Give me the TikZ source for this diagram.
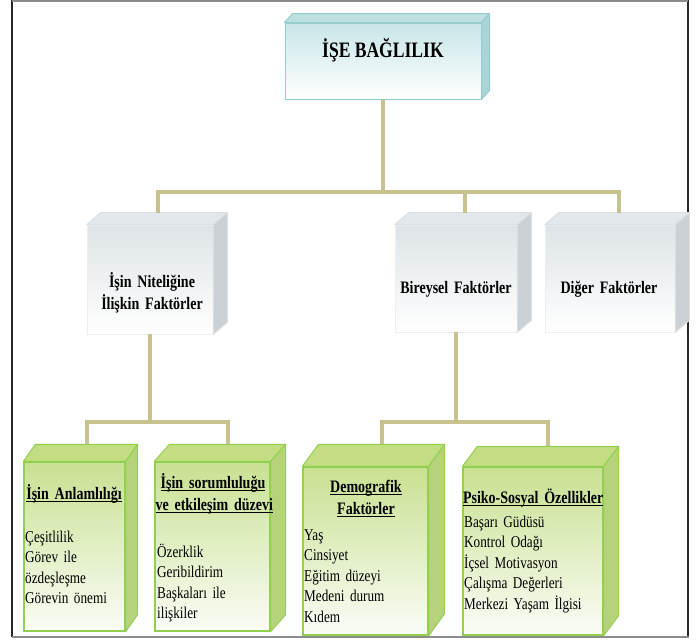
\documentclass[tikz,border=0pt]{standalone}
\usepackage{fontspec}
\setmainfont{Liberation Serif}[FakeStretch=0.8]
\usetikzlibrary{calc}
\definecolor{conncol}{RGB}{200,195,142}
\definecolor{tealtop}{RGB}{200,230,231}
\definecolor{tealface}{RGB}{190,224,225}
\definecolor{tealside}{RGB}{170,212,214}
\definecolor{tealbd}{RGB}{150,205,206}
\definecolor{graytop}{RGB}{222,228,231}
\definecolor{grayface}{RGB}{226,232,235}
\definecolor{grayside}{RGB}{204,209,213}
\definecolor{greentop}{RGB}{200,225,145}
\definecolor{greenface}{RGB}{194,221,130}
\definecolor{greenside}{RGB}{182,210,122}
\definecolor{greenbd}{RGB}{146,208,80}
\newcommand\hul[1]{\setbox0\hbox{#1}\leavevmode\rlap{\rule[-3.2pt]{\wd0}{1.3pt}}\box0}
\newcommand\tightsp{\spaceskip=0.19em plus 0.05em minus 0.03em\xspaceskip=\spaceskip}
\newcommand\cubefaces[6]{%
  \filldraw[fill=#4,draw=#6,line width=1pt,line join=round] (#1.north west) -- ([shift={(#2,-#3)}]#1.north west) -- ([shift={(#2,-#3)}]#1.north east) -- (#1.north east) -- cycle;
  \filldraw[fill=#5,draw=#6,line width=1pt,line join=round] (#1.north east) -- ([shift={(#2,-#3)}]#1.north east) -- ([shift={(#2,-#3)}]#1.south east) -- (#1.south east) -- cycle;
}
\tikzset{
  conn/.style={draw=conncol,line width=4pt},
  tealbox/.style={rectangle,draw=tealbd,line width=1pt,top color=tealtop,bottom color=white,inner sep=0pt},
  graybox/.style={rectangle,draw=graytop!60,line width=0.6pt,top color=graytop,bottom color=white,inner sep=0pt},
  greenbox/.style={rectangle,draw=greenbd,line width=1.3pt,top color=greentop,bottom color=white!92!greentop,inner sep=0pt},
  toptext/.style={font={\fontsize{22}{26}\selectfont\bfseries\tightsp},inner sep=0pt,anchor=base},
  midtext/.style={font={\fontsize{17.5}{22}\selectfont\bfseries\tightsp},inner sep=0pt,anchor=base,align=center,text width=#1},
  headtext/.style={font={\fontsize{17.5}{22}\selectfont\bfseries\tightsp},inner sep=0pt,anchor=base,align=center,text width=#1},
  bodytext/.style={font={\fontsize{16.5}{20.5}\selectfont\tightsp},inner sep=0pt,anchor=base west,align=left,text width=#1},
}
\begin{document}
\begin{tikzpicture}[x=1pt,y=-1pt]
\useasboundingbox (0,0) rectangle (698,640);
% frame
\draw[line width=1.6pt,black!85] (12,0) -- (12,637);
\draw[line width=1.6pt,black!85] (688,0) -- (688,637);
\draw[line width=2pt,black!45] (12,1) -- (688,1);
\draw[line width=2pt,black!45] (12,637) -- (689,637);

% boxes (front faces)
\node[tealbox,minimum width=196pt,minimum height=76pt] (top) at (383,61) {};
\node[graybox,minimum width=126pt,minimum height=109pt] (m1) at (150,279.5) {};
\node[graybox,minimum width=122pt,minimum height=107pt] (m2) at (456,278.5) {};
\node[graybox,minimum width=130pt,minimum height=107pt] (m3) at (610,278.5) {};
\node[greenbox,minimum width=101pt,minimum height=169pt] (a) at (74.5,546.5) {};
\node[greenbox,minimum width=115pt,minimum height=169pt] (b) at (212.5,546.5) {};
\node[greenbox,minimum width=125pt,minimum height=168pt] (c) at (365.5,551) {};
\node[greenbox,minimum width=140pt,minimum height=168pt] (d) at (533,551) {};

% 3D faces
\cubefaces{top}{8}{9}{tealface}{tealside}{tealbd}
\cubefaces{m1}{14}{12}{grayface}{grayside}{grayside!70}
\cubefaces{m2}{14}{12}{grayface}{grayside}{grayside!70}
\cubefaces{m3}{14}{12}{grayface}{grayside}{grayside!70}
\cubefaces{a}{12}{17}{greenface}{greenside}{greenbd}
\cubefaces{b}{15}{17}{greenface}{greenside}{greenbd}
\cubefaces{c}{16}{22}{greenface}{greenside}{greenbd}
\cubefaces{d}{15}{20}{greenface}{greenside}{greenbd}

% connector points
\coordinate (m1top) at ([shift={(8,-12)}]m1.north);
\coordinate (m2top) at ([shift={(9,-12)}]m2.north);
\coordinate (m3top) at ([shift={(9,-12)}]m3.north);
\coordinate (bus1) at (383,192);
\coordinate (atop) at ([shift={(12,-17)}]a.north);
\coordinate (btop) at ([shift={(15,-17)}]b.north);
\coordinate (ctop) at ([shift={(16,-22)}]c.north);
\coordinate (dtop) at ([shift={(15,-20)}]d.north);
\coordinate (bus2) at (150,422);
\coordinate (bus3) at (457,422);

% connectors
\draw[conn] (top.south) -- (bus1);
\draw[conn] (m1top) -- (m1top |- bus1) -- (m3top |- bus1) -- (m3top);
\draw[conn] (m2top) -- (m2top |- bus1);
\draw[conn] (m1.south) -- (bus2);
\draw[conn] (atop) -- (atop |- bus2) -- (btop |- bus2) -- (btop);
\draw[conn] (m2.south) -- (m2.south |- bus3);
\draw[conn] (ctop) -- (ctop |- bus3) -- (dtop |- bus3) -- (dtop);

% texts
\node[toptext] (ttop) at (383,57) {İŞE BAĞLILIK};
\node[midtext=126pt] (tm1) at (152,287) {İşin Niteliğine\\İlişkin Faktörler};
\node[midtext=122pt] (tm2) at (456,293) {Bireysel Faktörler};
\node[midtext=130pt] (tm3) at (609,293) {Diğer Faktörler};

\node[headtext=101pt] (ha) at (74,499) {\hul{İşin Anlamlılığı}};
\node[bodytext=100pt] (ba) at (25,542) {Çeşitlilik\\Görev ile\\özdeşleşme\\Görevin önemi};

\node[headtext=115pt] (hb) at (213,488) {\hul{İşin sorumluluğu}\\\hul{ve etkileşim düzevi}};
\node[bodytext=112pt] (bb) at (157,557) {Özerklik\\Geribildirim\\Başkaları ile\\ilişkiler};

\node[headtext=125pt] (hc) at (366,492) {\hul{Demografik}\\\hul{Faktörler}};
\node[bodytext=122pt] (bc) at (304,540) {Yaş\\Cinsiyet\\Eğitim düzeyi\\Medeni durum\\Kıdem};

\node[headtext=140pt] (hd) at (533,503) {\hul{Psiko-Sosyal Özellikler}};
\node[bodytext=138pt] (bd) at (464,527) {Başarı Güdüsü\\Kontrol Odağı\\İçsel Motivasyon\\Çalışma Değerleri\\Merkezi Yaşam İlgisi};
\end{tikzpicture}
\end{document}
